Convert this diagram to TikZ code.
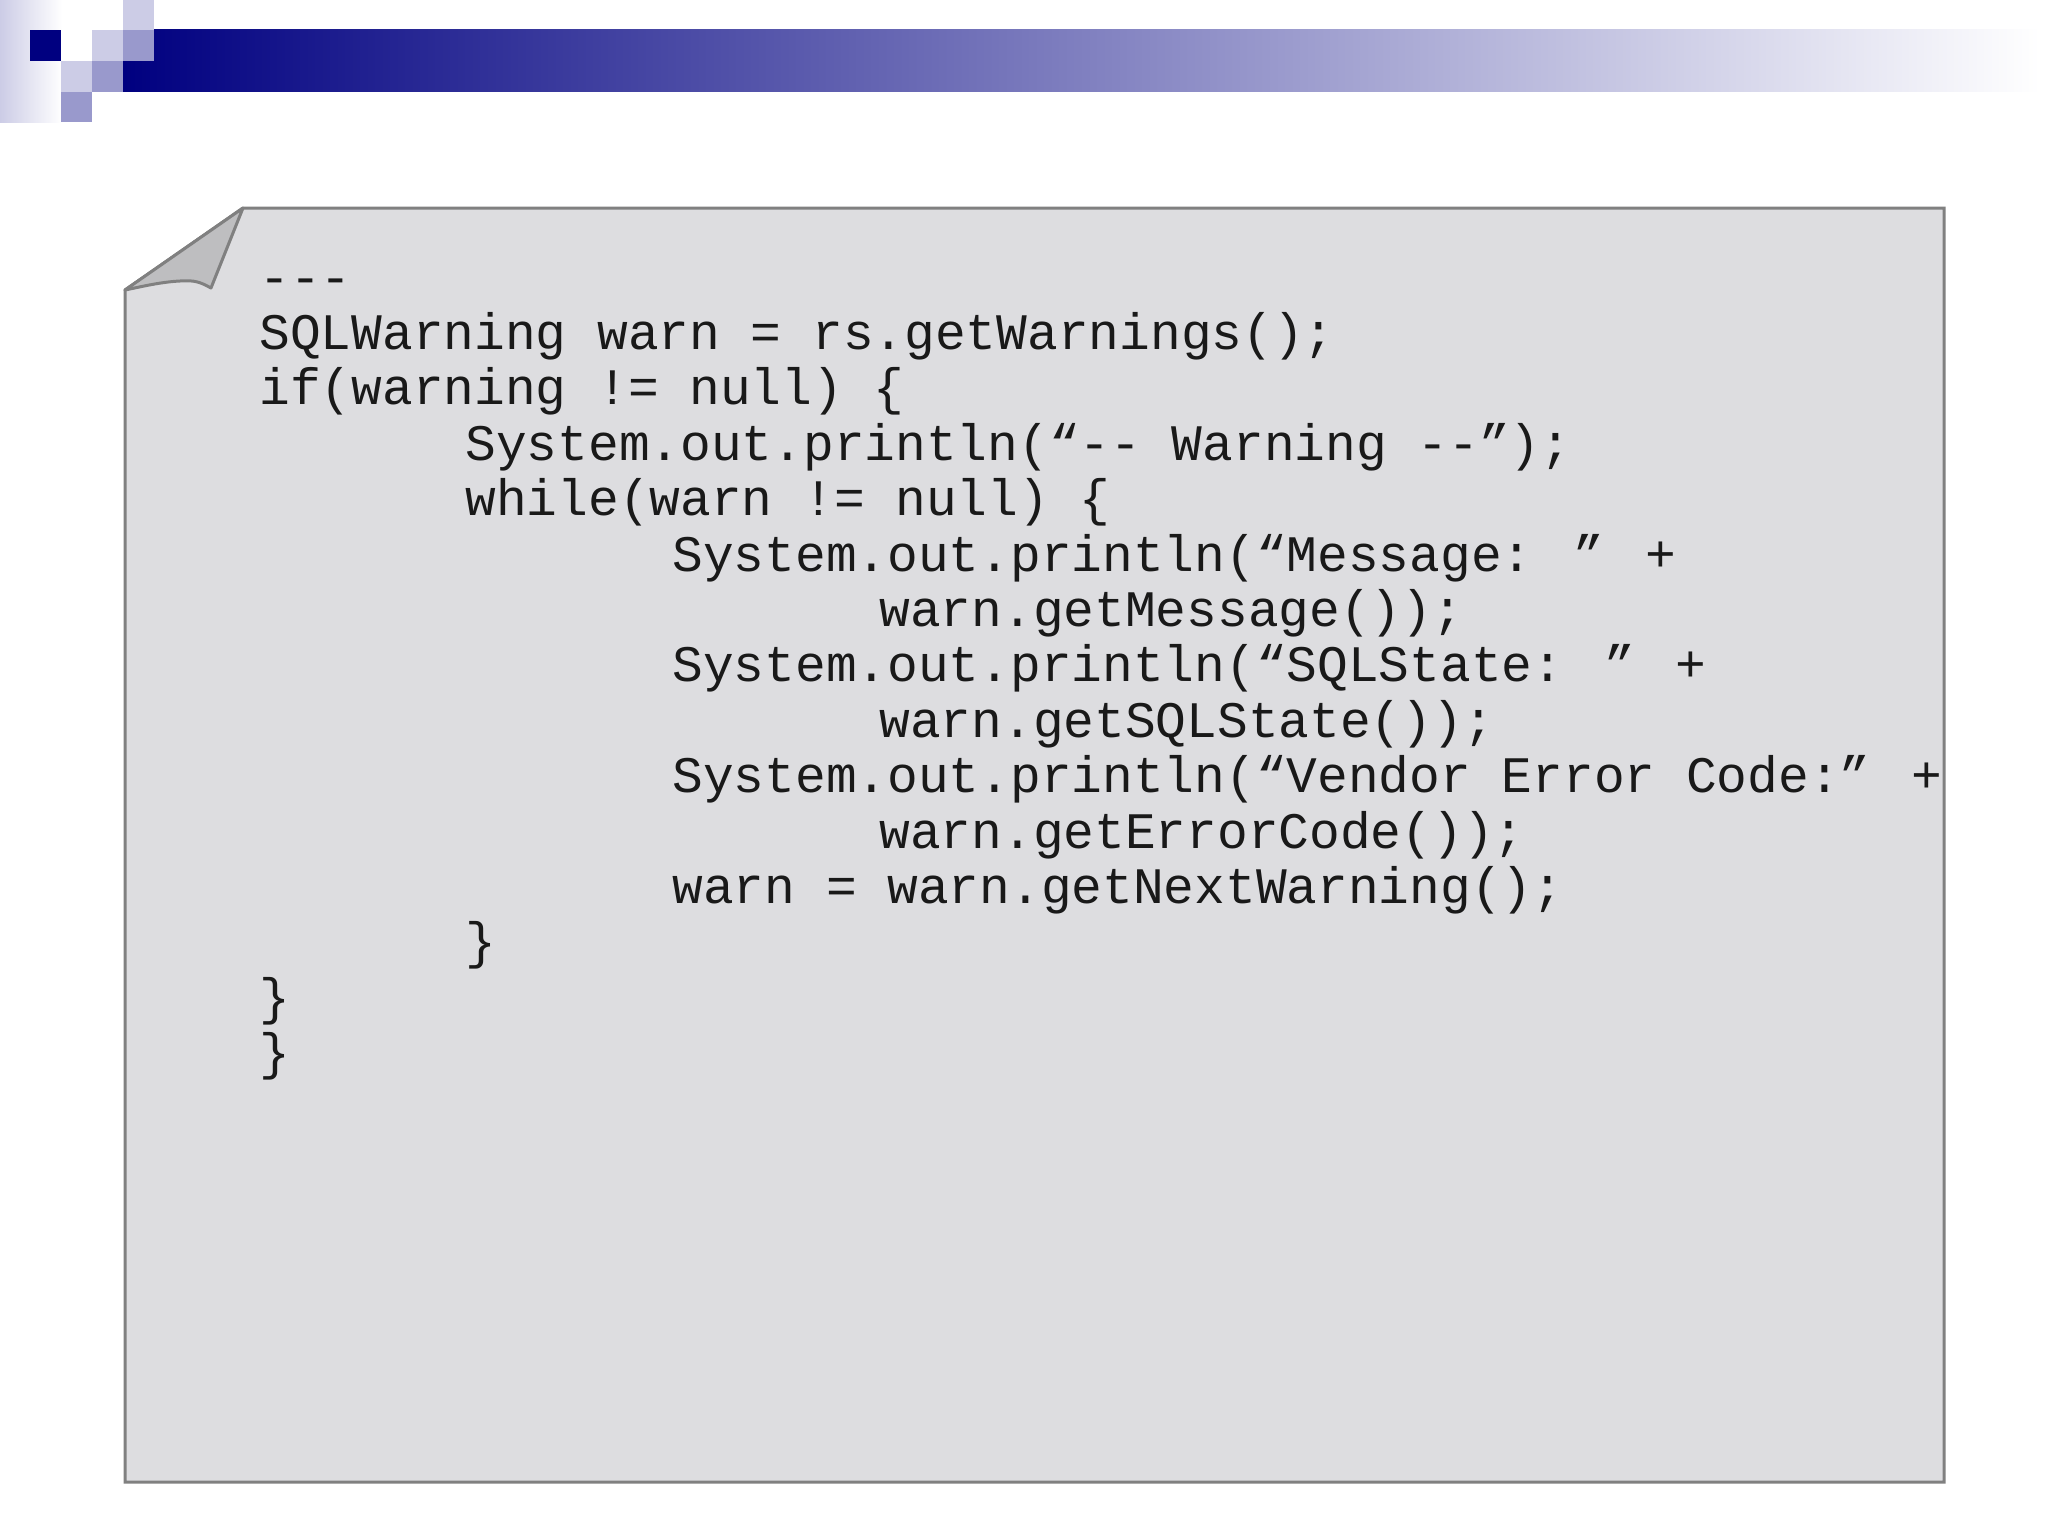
\documentclass[tikz,border=0pt]{standalone}
\usepackage{fontspec}
\newfontfamily\codefont{Liberation Mono}
\definecolor{navy}{RGB}{0,0,128}
\definecolor{lav}{RGB}{204,204,230}
\definecolor{midlav}{RGB}{153,153,204}
\definecolor{pagefill}{RGB}{221,221,224}
\definecolor{edge}{RGB}{128,128,128}
\definecolor{foldfill}{RGB}{190,190,192}
\tikzset{codeline/.style={anchor=base west,inner sep=0pt,font=\codefont\fontsize{25.6pt}{27pt}\selectfont,text=black!90}}
\begin{document}
\begin{tikzpicture}[x=0.5pt,y=-0.5pt]
\useasboundingbox (0,0) rectangle (2048,1536);
\fill[white] (0,0) rectangle (2048,1536);
% header
\shade[left color=lav,right color=white] (0,0) rectangle (62,122);
\shade[left color=navy,right color=white] (123,30) rectangle (2040,92);
\fill[navy] (30,30) rectangle (61,61);
\fill[white] (61,30) rectangle (92,61);
\fill[lav] (123,0) rectangle (154,30);
\fill[midlav] (123,30) rectangle (154,61);
\fill[lav] (92,30) rectangle (123,61);
\fill[lav] (61,61) rectangle (92,92);
\fill[midlav] (92,61) rectangle (123,92);
\fill[midlav] (61,92) rectangle (92,122);
% page
\draw[edge,line width=1.5pt,fill=pagefill] (243,208) -- (1944,208) -- (1944,1482) -- (125,1482) -- (125,290) -- cycle;
\draw[edge,line width=1.5pt,fill=foldfill,line join=round] (125,290) -- (243,208) -- (211,288) .. controls (200,282) and (195,280) .. (180,281) .. controls (160,282) and (140,287) .. (125,290) -- cycle;
% code
\def\la{259}\def\lb{465}\def\lc{672}\def\ld{879}
\node[codeline] (l1) at (\la,294) {-{}-{}-};
\node[codeline] (l2) at (\la,349.4) {SQLWarning warn = rs.getWarnings();};
\node[codeline] (l3) at (\la,404.8) {if(warning != null) \{};
\node[codeline] (l4) at (\lb,460.2) {System.out.println(“-{}- Warning -{}-”);};
\node[codeline] (l5) at (\lb,515.6) {while(warn != null) \{};
\node[codeline] (l6) at (\lc,571) {System.out.println(“Message: ” +};
\node[codeline] (l7) at (\ld,626.4) {warn.getMessage());};
\node[codeline] (l8) at (\lc,681.8) {System.out.println(“SQLState: ” +};
\node[codeline] (l9) at (\ld,737.2) {warn.getSQLState());};
\node[codeline] (l10) at (\lc,792.6) {System.out.println(“Vendor Error Code:” +};
\node[codeline] (l11) at (\ld,848) {warn.getErrorCode());};
\node[codeline] (l12) at (\lc,903.4) {warn = warn.getNextWarning();};
\node[codeline] (l13) at (\lb,958.8) {\}};
\node[codeline] (l14) at (\la,1014.2) {\}};
\node[codeline] (l15) at (\la,1069.6) {\}};
\end{tikzpicture}
\end{document}
